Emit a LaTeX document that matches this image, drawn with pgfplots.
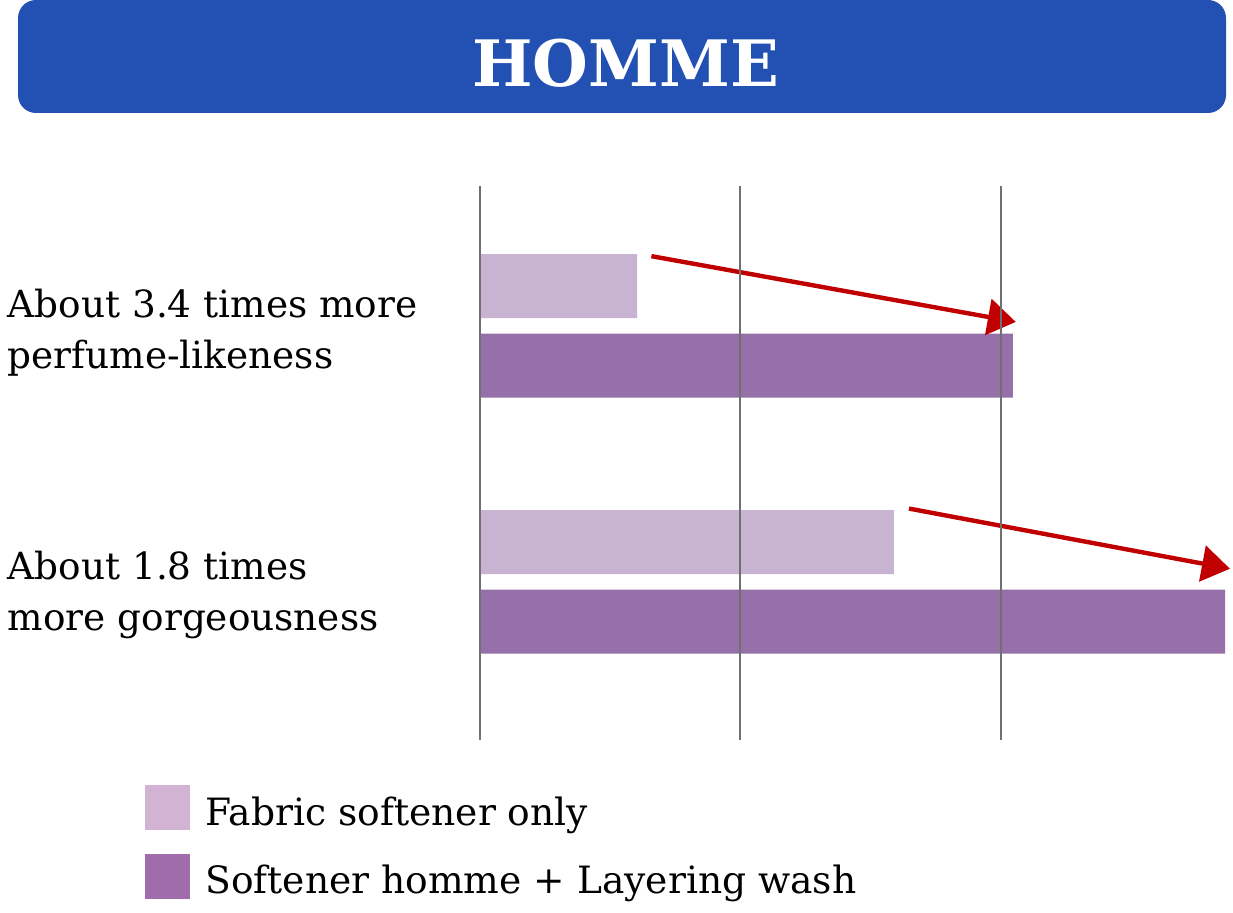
\documentclass[border=0pt]{standalone}
\usepackage{pgfplots}
\pgfplotsset{compat=1.18}
\usepackage{fontspec}
\setmainfont{DejaVu Serif}
\usetikzlibrary{arrows.meta}
\definecolor{banner}{HTML}{2351B3}
\definecolor{barL}{HTML}{C8B3D3}
\definecolor{barD}{HTML}{9670A8}
\definecolor{legL}{HTML}{D2B3D3}
\definecolor{legD}{HTML}{A06CAB}
\definecolor{arrowred}{HTML}{C00000}
\definecolor{gridgray}{HTML}{707070}
\begin{document}
\begin{tikzpicture}
\useasboundingbox (0,0) rectangle (616.5pt,-456.5pt);
\fill[banner, rounded corners=9pt] (9pt,0pt) rectangle (613pt,-56.5pt);
\node[anchor=base, text=white, font=\fontsize{32}{32}\selectfont\bfseries, inner sep=0pt] at (312.75pt,-43.5pt) {HOMME};
\begin{axis}[
  at={(240pt,-370pt)}, anchor=south west,
  scale only axis, width=372.5pt, height=277pt,
  xmin=0, xmax=2.86, ymin=-0.618, ymax=1.546,
  xbar, bar width=32pt,
  axis line style={draw=none},
  tick style={draw=none},
  xtick={0,1,2}, xticklabels={},
  xmajorgrids, major grid style={gridgray, line width=1pt},
  ytick={-0.051,0.973},
  yticklabels={{About 1.8 times\\more gorgeousness},{About 3.4 times more\\perfume-likeness}},
  yticklabel style={anchor=west, xshift=-232pt, align=left, inner sep=0pt, font=\fontsize{18.7}{25.5}\selectfont},
  axis on top, clip=false,
  legend style={at={(axis description cs:0,0)}, anchor=north west, xshift=-167.5pt, yshift=-22.5pt,
    draw=none, fill=none, inner sep=0pt, outer sep=0pt, row sep=12pt,
    font=\fontsize{18.8}{22}\selectfont, nodes={inner sep=0pt, yshift=-2.5pt}},
  legend cell align=left,
]
\addplot[fill=barL, draw=none, bar shift=19.875pt, forget plot] coordinates {(1.589,0) (0.603,1)};
\addplot[fill=barD, draw=none, bar shift=-19.875pt, forget plot] coordinates {(2.860,0) (2.046,1)};
\addlegendimage{legend image code/.code={\fill[legL] (0pt,-11pt) rectangle (22pt,11pt); \path[draw=none,fill=none] (22pt,0pt) -- (30pt,0pt);}}
\addlegendentry{Fabric softener only}
\addlegendimage{legend image code/.code={\fill[legD] (0pt,-11pt) rectangle (22pt,11pt); \path[draw=none,fill=none] (22pt,0pt) -- (30pt,0pt);}}
\addlegendentry{Softener homme + Layering wash}
\draw[arrowred, line width=2.2pt, -{Triangle[length=14pt,width=18pt]}] (axis cs:0.658,1.272) -- (axis cs:2.057,1.015);
\draw[arrowred, line width=2.2pt, -{Triangle[length=14pt,width=18pt]}] (axis cs:1.647,0.286) -- (axis cs:2.879,0.051);
\end{axis}
\end{tikzpicture}
\end{document}
